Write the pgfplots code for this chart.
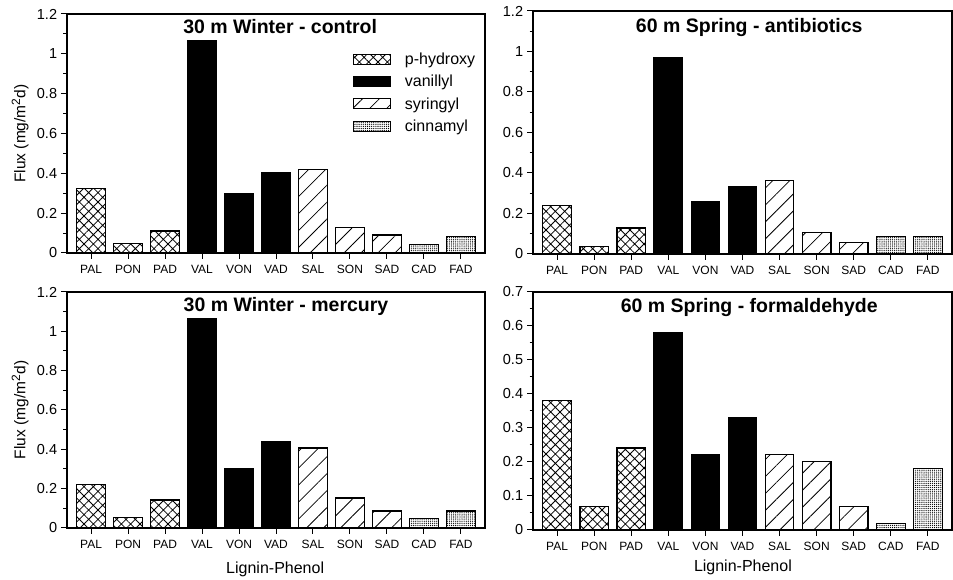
\documentclass[border=0pt]{standalone}
\usepackage{fontspec}
\setmainfont{Liberation Sans}
\usepackage{pgfplots}
\pgfplotsset{compat=1.18}
\usetikzlibrary{patterns.meta}

\pgfplotsset{
  legimg/.style={legend image code/.code={\draw[##1,line width=1pt] (0pt,-5pt) rectangle (37pt,5pt);}},
  phyd/.style={draw=black, line width=1.2pt, pattern={Hatch[angle=45,distance=6.6pt,line width=0.8pt]}, legimg},
  vani/.style={draw=black, line width=1.2pt, fill=black, legimg},
  syri/.style={draw=black, line width=1.2pt, pattern={Lines[angle=45,distance=12pt,line width=0.8pt]}, legimg},
  cinn/.style={draw=black, line width=1.2pt, pattern={Dots[distance=2.1pt,radius=0.65pt]}, legimg},
  panel/.style={
    scale only axis, width=418pt, height=239pt,
    xmin=-0.65, xmax=10.65, ymin=0,
    xtick={0,...,10},
    xticklabels={PAL,PON,PAD,VAL,VON,VAD,SAL,SON,SAD,CAD,FAD},
    xtick pos=bottom, ytick pos=left,
    tick align=outside, major tick length=6pt, minor tick length=3.5pt,
    minor y tick num=1,
    line width=1.2pt,
    every tick/.style={black, line width=1pt},
    ybar, bar width=0.77, bar shift=0pt,
    /pgf/number format/assume math mode=true,
    /pgf/number format/fixed,
    x tick label style={font=\fontsize{12}{12}\selectfont, yshift=-2pt},
    y tick label style={font=\fontsize{14.5}{14.5}\selectfont},
    title style={font=\fontsize{19.5}{20}\selectfont\bfseries, anchor=base},
    ylabel style={font=\fontsize{15.5}{15.5}\selectfont},
    xlabel style={font=\fontsize{16}{16}\selectfont},
  }
}

\begin{document}
\begin{tikzpicture}
\useasboundingbox (0pt,0pt) rectangle (953pt,580pt);

% Panel 1
\begin{axis}[panel, at={(67pt,327pt)}, anchor=south west,
  width=418pt, height=239pt, ymax=1.2,
  ytick={0,0.2,0.4,0.6,0.8,1,1.2},
  title={30 m Winter - control},
  title style={at={(axis description cs:0.51,1)}, yshift=-26pt},
  ylabel={Flux (mg/m\textsuperscript{\fontsize{12}{12}\selectfont 2}d)},
  ylabel style={at={(axis description cs:-0.112,0.5)}, anchor=center},
  legend style={at={(axis description cs:0.684,0.84)}, anchor=north west,
    draw=none, fill=none, font=\fontsize{16}{16}\selectfont, row sep=7pt,
    inner sep=0pt, outer sep=0pt,
    nodes={inner sep=1pt},
    /tikz/every odd column/.append style={column sep=13pt}},
  legend cell align=left,
]
\addplot[phyd] coordinates {(0,0.323) (1,0.047) (2,0.110)};
\addplot[vani] coordinates {(3,1.065) (4,0.299) (5,0.406)};
\addplot[syri] coordinates {(6,0.418) (7,0.130) (8,0.090)};
\addplot[cinn] coordinates {(9,0.042) (10,0.082)};
\legend{p-hydroxy, vanillyl, syringyl, cinnamyl}
\end{axis}

% Panel 2
\begin{axis}[panel, at={(533pt,326pt)}, anchor=south west,
  width=419pt, height=243pt, ymax=1.2,
  ytick={0,0.2,0.4,0.6,0.8,1,1.2},
  title={60 m Spring - antibiotics},
  title style={at={(axis description cs:0.516,1)}, yshift=-28pt},
]
\addplot[phyd] coordinates {(0,0.238) (1,0.038) (2,0.128)};
\addplot[vani] coordinates {(3,0.968) (4,0.261) (5,0.332)};
\addplot[syri] coordinates {(6,0.363) (7,0.107) (8,0.058)};
\addplot[cinn] coordinates {(9,0.085) (10,0.085)};
\end{axis}

% Panel 3
\begin{axis}[panel, at={(67pt,52pt)}, anchor=south west,
  width=418pt, height=236pt, ymax=1.2,
  ytick={0,0.2,0.4,0.6,0.8,1,1.2},
  title={30 m Winter - mercury},
  title style={at={(axis description cs:0.524,1)}, yshift=-26pt},
  ylabel={Flux (mg/m\textsuperscript{\fontsize{12}{12}\selectfont 2}d)},
  ylabel style={at={(axis description cs:-0.112,0.5)}, anchor=center},
  xlabel={Lignin-Phenol},
  xlabel style={at={(axis description cs:0.498,-0.174)}, anchor=center},
]
\addplot[phyd] coordinates {(0,0.220) (1,0.053) (2,0.142)};
\addplot[vani] coordinates {(3,1.063) (4,0.303) (5,0.439)};
\addplot[syri] coordinates {(6,0.407) (7,0.153) (8,0.086)};
\addplot[cinn] coordinates {(9,0.049) (10,0.086)};
\end{axis}

% Panel 4
\begin{axis}[panel, at={(533pt,50pt)}, anchor=south west,
  width=419pt, height=238pt, ymax=0.7,
  ytick={0,0.1,0.2,0.3,0.4,0.5,0.6,0.7},
  title={60 m Spring - formaldehyde},
  title style={at={(axis description cs:0.516,1)}, yshift=-27pt},
  xlabel={Lignin-Phenol},
  xlabel style={at={(axis description cs:0.501,-0.158)}, anchor=center},
]
\addplot[phyd] coordinates {(0,0.380) (1,0.068) (2,0.241)};
\addplot[vani] coordinates {(3,0.581) (4,0.221) (5,0.331)};
\addplot[syri] coordinates {(6,0.222) (7,0.201) (8,0.068)};
\addplot[cinn] coordinates {(9,0.020) (10,0.181)};
\end{axis}
\end{tikzpicture}
\end{document}
